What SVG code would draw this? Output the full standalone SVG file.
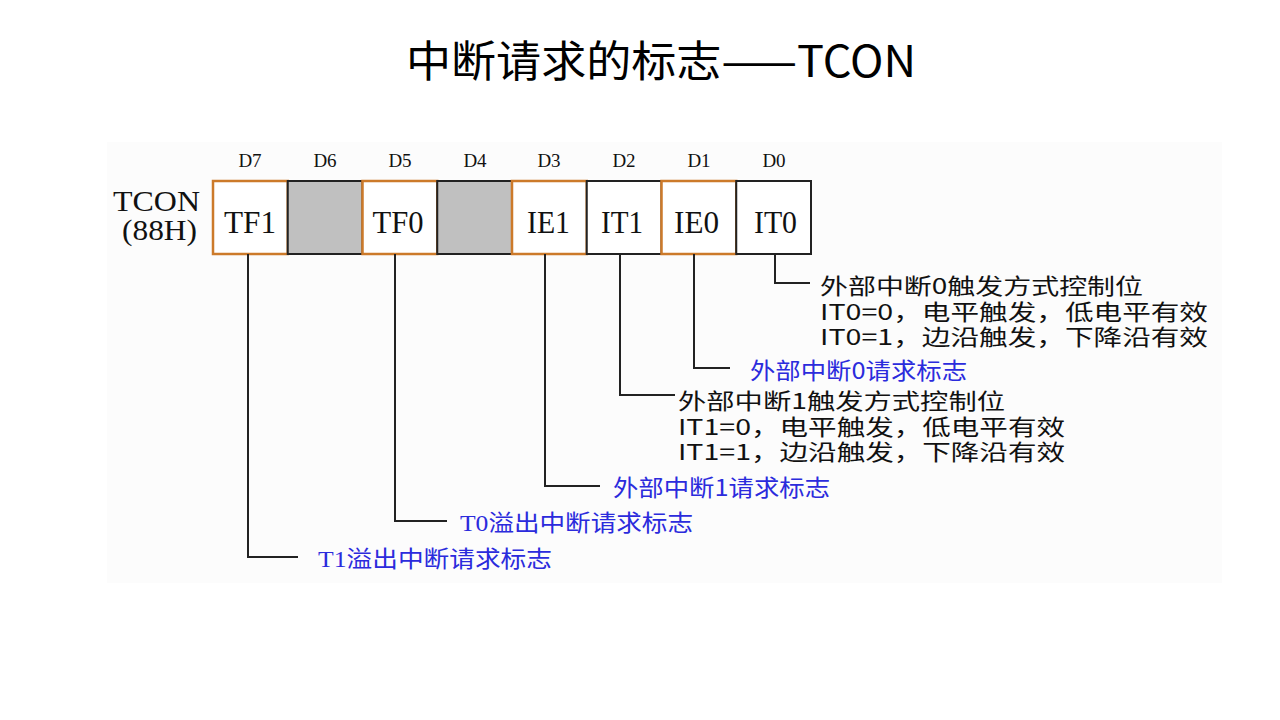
<svg xmlns="http://www.w3.org/2000/svg" width="1280" height="720" viewBox="0 0 1280 720">
<style>
.bit{font-family:"Liberation Serif","Times New Roman",serif;font-size:19px;fill:#111;text-anchor:middle}
.cell{font-family:"Liberation Serif","Times New Roman",serif;font-size:31px;fill:#111;text-anchor:middle}
.reg{font-family:"Liberation Serif","Times New Roman",serif;font-size:29px;fill:#111}
.desc{font-family:"Noto Sans CJK SC","Noto Sans",sans-serif;font-size:22px;fill:#111}
.blue{font-family:"Noto Sans CJK SC","Noto Sans",sans-serif;font-size:23px;fill:#2b2bdc}
.ser{font-family:"Liberation Serif","Times New Roman",serif}
.frame{fill:#fff;stroke:#222;stroke-width:2}
.gray{fill:#c0c0c0;stroke:#222;stroke-width:2}
.orange{fill:#fff;stroke:#cc7a2a;stroke-width:2.5}
.conn{fill:none;stroke:#222;stroke-width:2}
</style>
<rect x="0" y="0" width="1280" height="720" fill="#fff"/>
<rect x="107" y="142" width="1115" height="441" fill="#fcfcfc"/>
<g id="title">
<text x="661" y="77" font-family="'Noto Sans CJK SC','Noto Sans',sans-serif" font-size="43" fill="#000" text-anchor="middle" textLength="510" lengthAdjust="spacingAndGlyphs">中断请求的标志——TCON</text>
</g>
<g id="bit-labels">
<text class="bit" x="250" y="167">D7</text>
<text class="bit" x="325" y="167">D6</text>
<text class="bit" x="400" y="167">D5</text>
<text class="bit" x="475" y="167">D4</text>
<text class="bit" x="549" y="167">D3</text>
<text class="bit" x="624" y="167">D2</text>
<text class="bit" x="699" y="167">D1</text>
<text class="bit" x="774" y="167">D0</text>
</g>
<g id="register-name">
<text class="reg" x="113" y="211" textLength="87" lengthAdjust="spacingAndGlyphs">TCON</text>
<text class="reg" x="122" y="240" textLength="75" lengthAdjust="spacingAndGlyphs">(88H)</text>
</g>
<g id="register">
<rect class="frame" x="213" y="181" width="598" height="73"/>
<g id="cell-TF1"><rect class="orange" x="213" y="181" width="74.75" height="73"/><text class="cell" x="250" y="233" textLength="52" lengthAdjust="spacingAndGlyphs">TF1</text></g>
<g id="cell-D6"><rect class="gray" x="287.75" y="181" width="74.75" height="73"/></g>
<g id="cell-TF0"><rect class="orange" x="362.5" y="181" width="74.75" height="73"/><text class="cell" x="398" y="233" textLength="51" lengthAdjust="spacingAndGlyphs">TF0</text></g>
<g id="cell-D4"><rect class="gray" x="437.25" y="181" width="74.75" height="73"/></g>
<g id="cell-IE1"><rect class="orange" x="512" y="181" width="74.75" height="73"/><text class="cell" x="548.5" y="233" textLength="43" lengthAdjust="spacingAndGlyphs">IE1</text></g>
<g id="cell-IT1"><rect class="frame" x="586.75" y="181" width="74.75" height="73"/><text class="cell" x="622" y="233" textLength="42" lengthAdjust="spacingAndGlyphs">IT1</text></g>
<g id="cell-IE0"><rect class="orange" x="661.5" y="181" width="74.75" height="73"/><text class="cell" x="696.5" y="233" textLength="45" lengthAdjust="spacingAndGlyphs">IE0</text></g>
<g id="cell-IT0"><rect class="frame" x="736.25" y="181" width="74.75" height="73"/><text class="cell" x="775.5" y="233" textLength="43" lengthAdjust="spacingAndGlyphs">IT0</text></g>
</g>
<g id="connectors">
<polyline class="conn" points="775,254 775,283 810,283"/>
<polyline class="conn" points="694,254 694,368 730,368"/>
<polyline class="conn" points="620,254 620,395 675,395"/>
<polyline class="conn" points="545,254 545,486 600,486"/>
<polyline class="conn" points="395,254 395,521 447,521"/>
<polyline class="conn" points="248,254 248,557 298,557"/>
</g>
<g id="desc-IT0">
<text class="desc" x="820" y="294" textLength="323" lengthAdjust="spacingAndGlyphs">外部中断0触发方式控制位</text>
<text class="desc" x="820" y="320" textLength="388" lengthAdjust="spacingAndGlyphs">IT0=0，电平触发，低电平有效</text>
<text class="desc" x="820" y="345" textLength="388" lengthAdjust="spacingAndGlyphs">IT0=1，边沿触发，下降沿有效</text>
</g>
<g id="desc-IE0">
<text class="blue" x="750" y="379" textLength="217" lengthAdjust="spacingAndGlyphs">外部中断0请求标志</text>
</g>
<g id="desc-IT1">
<text class="desc" x="678" y="409" textLength="327" lengthAdjust="spacingAndGlyphs">外部中断1触发方式控制位</text>
<text class="desc" x="678" y="435" textLength="387" lengthAdjust="spacingAndGlyphs">IT1=0，电平触发，低电平有效</text>
<text class="desc" x="678" y="460" textLength="387" lengthAdjust="spacingAndGlyphs">IT1=1，边沿触发，下降沿有效</text>
</g>
<g id="desc-IE1">
<text class="blue" x="613" y="496" textLength="217" lengthAdjust="spacingAndGlyphs">外部中断1请求标志</text>
</g>
<g id="desc-TF0">
<text class="blue" x="460" y="531" textLength="233" lengthAdjust="spacingAndGlyphs"><tspan class="ser">T0</tspan>溢出中断请求标志</text>
</g>
<g id="desc-TF1">
<text class="blue" x="318" y="567" textLength="234" lengthAdjust="spacingAndGlyphs"><tspan class="ser">T1</tspan>溢出中断请求标志</text>
</g>
</svg>
